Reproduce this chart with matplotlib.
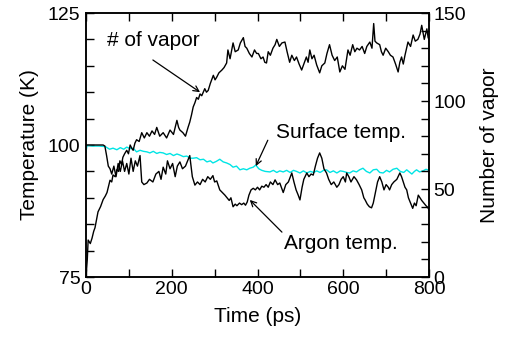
import matplotlib
matplotlib.use("Agg")
import matplotlib.pyplot as plt
from matplotlib.ticker import MultipleLocator

plt.rcParams['font.family'] = ['Liberation Sans', 'DejaVu Sans']

# ---- data ----
vapor_t = [0, 3, 5, 10, 14, 18, 21, 25, 28, 34, 40, 45, 49, 53, 56, 60, 63, 68, 72, 76, 79, 83, 86, 90, 95, 99, 103, 107, 110, 114,
           118, 124, 130, 136, 142, 148, 154, 160, 165, 172, 180, 188, 196, 204, 212, 216, 219, 226, 232, 238, 242,
           246, 250, 254, 258, 262, 266, 270, 277, 281, 285, 290, 297, 301, 305, 310, 317, 322, 328, 331, 336, 343,
           348, 355, 360, 367, 371, 375, 381, 387, 393, 398, 402, 408, 413, 417, 421, 425, 430, 436, 441, 445, 451,
           457, 464, 469, 475, 480, 486, 491, 497, 503, 508, 514, 518, 522, 527, 532, 538, 545, 550, 557, 562, 568,
           574, 580, 586, 592, 598, 604, 611, 616, 622, 627, 632, 638, 644, 650, 655, 662, 667, 671, 674, 678, 685,
           689, 693, 699, 705, 710, 716, 722, 728, 732, 736, 740, 744, 751, 757, 763, 768, 774, 779, 783, 786, 789,
           792, 795, 798, 800]
vapor_n = [0, 10, 21, 19, 22, 26, 28, 33, 37, 40, 44, 46, 48, 52, 55, 54, 58, 57, 61, 60, 66, 64, 68, 70, 72, 70, 75, 73, 72, 76,
           78, 77, 82, 79, 82, 80, 83, 81, 85, 80, 82, 79, 83.5, 81, 89, 85, 83.5, 82, 80, 85, 88,
           92, 96.6, 99, 102, 101, 104, 103, 107, 105, 106, 110, 114.6, 112, 113.6, 116, 117.6, 119, 121.6, 129, 124, 133,
           128, 129, 133, 136, 131, 130, 127, 125, 129, 127, 127, 124, 125, 122, 121.6, 128, 126, 130, 132, 135, 131,
           133, 133.5, 128, 122, 126, 123, 125, 121, 117.6, 121, 125, 122, 129, 124, 126, 120.5, 116, 120, 121.6, 127, 132,
           126, 123, 125, 116.5, 120, 118, 129, 126, 132, 128, 130, 129, 131, 127, 131, 133.5, 130, 144, 134, 133, 132,
           128, 126, 130, 128, 126, 125, 121, 116.5, 122, 125, 121, 126, 133.5, 131, 137.5, 134, 135, 138, 143, 139, 135,
           138, 141, 136, 135]

argon_t = [0, 10, 20, 30, 40, 44, 48, 52, 56, 60, 65, 70, 75, 80, 85, 90, 95, 100, 105, 110, 115, 120, 126, 130, 135,
           142, 148, 156, 163, 170, 175, 180, 186, 190, 196, 202, 208, 213, 219, 225, 232, 238, 242, 248, 254, 260,
           266, 272, 278, 284, 290, 296, 300, 305, 312, 318, 324, 329, 334, 338, 343, 348, 352, 358, 363, 368, 372,
           376, 380, 385, 390, 395, 400, 405, 410, 415, 420, 425, 430, 436, 441, 447, 452, 460, 466, 472, 480, 485,
           490, 495, 499, 504, 508, 515, 520, 525, 530, 535, 540, 545, 550, 555, 561, 566, 572, 578, 585, 590, 595,
           600, 605, 608, 613, 618, 625, 631, 637, 643, 648, 651, 656, 661, 666, 670, 675, 680, 685, 690, 695, 700,
           705, 708, 713, 718, 725, 732, 736, 740, 744, 748, 752, 757, 762, 766, 770, 775, 779, 783, 788, 793, 797, 800]
argon_k = [100, 100, 100, 100, 100, 99.8, 98, 96, 95.5, 94.5, 96, 94, 96.5, 95, 97, 95, 96.5, 94.5, 97.5, 95, 97, 96, 98, 93, 92.5,
           92.8, 93.5, 93, 94.5, 95, 93.5, 95.8, 94.5, 97, 95.5, 96.5, 94, 96, 96.8, 95.5, 96, 97.2, 98, 94, 92.4, 93,
           92.5, 93.5, 93, 94, 93.5, 94.2, 93, 93.2, 91.5, 91, 90.5, 90, 89.5, 90, 88.3, 88.8, 88.5, 89, 88.7, 89, 88.6,
           89.2, 90.5, 91.5, 91.8, 91.5, 92, 91.5, 92.2, 92, 92.5, 92, 93, 92.5, 93.4, 92.5, 92.8, 91, 92.5, 93, 94.7, 93,
           91.5, 90.5, 89.6, 92, 93.5, 94.7, 94, 94.5, 94.3, 96, 97.5, 98.5, 97.5, 95.5, 94.7, 93.5, 92.5, 93, 92, 92.5, 93.5,
           94, 93, 94.7, 94, 93, 94, 93.4, 92.5, 91.5, 90, 89.6, 88.8, 88.3, 88.1, 89, 91, 93, 94, 93, 91.5, 92.5,
           92, 91.5, 92.5, 93, 93.5, 94.7, 94, 93, 92, 91.5, 90, 89, 88, 89, 88.5, 90.5, 90, 89.5, 89, 88.5, 88.2, 87.7]

surf_t = [0, 2, 5, 15, 30, 45, 55, 63, 72, 80, 88, 95, 103, 110, 118, 126, 134, 142, 149, 157, 165, 172, 180, 188, 196,
          204, 212, 219, 227, 235, 243, 250, 258, 266, 274, 282, 290, 296, 304, 312, 320, 328, 336, 343, 351, 359,
          367, 375, 382, 390, 396, 403, 410, 418, 429, 437, 445, 452, 460, 468, 476, 484, 491, 499, 507, 515, 523,
          531, 538, 546, 554, 561, 569, 577, 585, 593, 600, 608, 615, 623, 631, 638, 646, 654, 662, 670, 678, 685,
          693, 701, 708, 716, 725, 733, 741, 748, 754, 760, 766, 771, 778, 786, 793, 800]
surf_k = [98.6, 99.8, 99.9, 99.8, 99.8, 99.7, 99.2, 99.4, 99.1, 99.5, 99.2, 99.6, 99.3, 99.4, 98.7, 99.0, 98.8, 98.7, 98.5, 98.8, 98.4, 98.6, 98.5, 98.2, 98.4,
          98.0, 98.3, 98.1, 97.8, 97.9, 97.5, 97.5, 97.6, 97.2, 97.3, 96.8, 97.0, 96.6, 96.9, 97.3, 96.8, 96.6, 96.3, 95.8, 96.0, 95.3,
          95.5, 95.3, 95.6, 95.8, 96.2, 95.5, 95.2, 95.0, 94.9, 95.2, 94.8, 95.1, 94.9, 95.2, 94.8, 95.2, 95.0, 94.7, 95.1, 94.7, 95.0,
          94.8, 95.1, 94.8, 95.2, 95.3, 94.8, 95.1, 94.7, 95.1, 95.0, 94.8, 94.7, 95.1, 94.9, 95.3, 95.6, 95.0, 94.7, 95.3, 95.4, 94.8,
          94.7, 95.2, 94.9, 95.4, 95.6, 95.0, 94.8, 95.3, 94.9, 94.5, 95.0, 95.3, 94.9, 95.1, 95.4, 95.2]

# ---- figure ----
fig = plt.figure(figsize=(5.11, 3.38), dpi=100)
ax = fig.add_axes([86/511, 1-277/338, (429-86)/511, (277-13)/338])
ax2 = ax.twinx()

ax.plot(argon_t, argon_k, color='black', lw=1.0, zorder=3)
ax.plot(surf_t, surf_k, color='#00e5e5', lw=1.0, zorder=2)
ax2.plot(vapor_t, vapor_n, color='black', lw=1.0)

ax.set_xlim(0, 800)
ax.set_ylim(75, 125)
ax2.set_ylim(0, 150)

ax.xaxis.set_major_locator(MultipleLocator(200))
ax.xaxis.set_minor_locator(MultipleLocator(100))
ax.yaxis.set_major_locator(MultipleLocator(25))
ax.yaxis.set_minor_locator(MultipleLocator(5))
ax2.yaxis.set_major_locator(MultipleLocator(50))
ax2.yaxis.set_minor_locator(MultipleLocator(10))

ax.tick_params(axis='x', which='both', direction='in', top=True, length=6, width=1, labelsize=14, pad=3)
ax.tick_params(axis='y', which='both', direction='in', right=False, length=6, width=1, labelsize=14, pad=4)
ax2.tick_params(axis='y', which='both', direction='in', length=6, width=1, labelsize=14, pad=3)

for a in (ax, ax2):
    for s in a.spines.values():
        s.set_linewidth(1.1)

ax.set_xlabel('Time (ps)', fontsize=15, labelpad=6)
ax.set_ylabel('Temperature (K)', fontsize=15, labelpad=6)
ax2.set_ylabel('Number of vapor', fontsize=15, labelpad=10)

arrow = dict(arrowstyle='->', lw=0.9, color='black', shrinkA=0, shrinkB=0)
ax.text(49, 119.7, '# of vapor', fontsize=15, va='center', ha='left')
ax.annotate('', xy=(266, 110.0), xytext=(156, 116.1), arrowprops=arrow)
ax.text(443, 102.3, 'Surface temp.', fontsize=15, va='center', ha='left')
ax.annotate('', xy=(396, 96.0), xytext=(424, 100.9), arrowprops=arrow)
ax.text(462, 81.4, 'Argon temp.', fontsize=15, va='center', ha='left')
ax.annotate('', xy=(382, 89.6), xytext=(457, 83.5), arrowprops=arrow)

fig.savefig('out.png', dpi=100)
